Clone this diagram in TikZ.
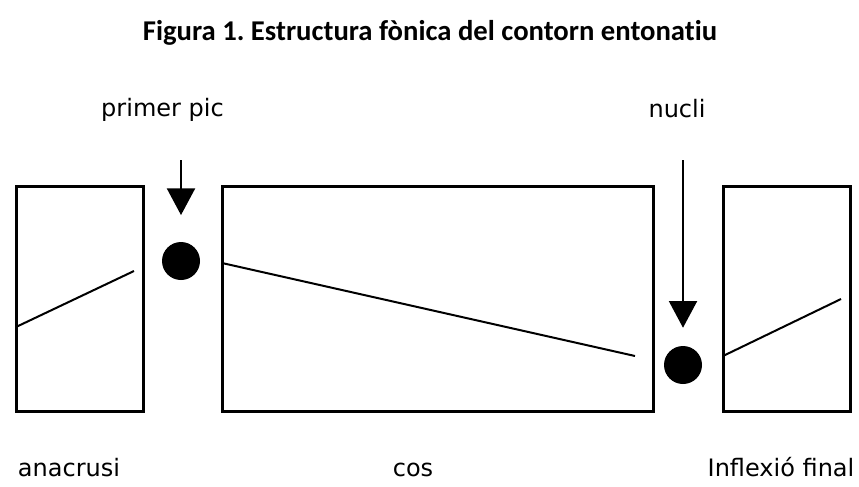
\documentclass[tikz,border=0pt]{standalone}
\usepackage{fontspec}
\setmainfont{DejaVu Sans}
\newfontfamily\titlefont[RawFeature=-liga]{Carlito}
\usepackage{tikz}
\usetikzlibrary{arrows.meta}
\frenchspacing

\tikzset{
	box/.style = {draw, line width = 2.25pt, inner sep = 0pt},
	dot/.style = {circle, fill = black, inner sep = 0pt, minimum size = 28.5pt},
	lbl/.style = {anchor = base, inner sep = 0pt, font = \fontsize{18}{20}\selectfont},
	arr/.style = {line width = 1.5pt, -{Triangle[length = 20pt, width = 21pt]}}
}

\begin{document}
\begin{tikzpicture}[x = 0.75pt, y = -0.75pt]
\useasboundingbox (0, 0) rectangle (859, 486);
\node[anchor = base, inner sep = 0pt, font = \titlefont\bfseries\fontsize{21.5}{24}\selectfont] (title) at (430, 40) {Figura 1. Estructura fònica del contorn entonatiu};

\node[box, minimum width = 95.25pt, minimum height = 168.75pt] (anacrusi) at (79.5, 298.5) {};
\node[box, minimum width = 323.25pt, minimum height = 168.75pt] (cos) at (437.5, 298.5) {};
\node[box, minimum width = 95.25pt, minimum height = 168.75pt] (inflexio) at (786.5, 298.5) {};

\node[dot] (pic) at (181, 261) {};
\node[dot] (nucli) at (683, 365) {};

% contorn
\draw[line width = 1.5pt] (16, 327) -- (134, 271);
\draw[line width = 1.5pt] (222, 263) -- (635, 356);
\draw[line width = 1.5pt] (723, 356) -- (841, 299);

\node[lbl] (lpic) at (162.5, 116) {primer pic};
\node[lbl] (lnucli) at (677, 117) {nucli};
\node[lbl] (lanacrusi) at (69, 476) {anacrusi};
\node[lbl] (lcos) at (413, 476) {cos};
\node[lbl] (linflexio) at (781, 476) {Inflexió final};

\coordinate (a1) at (181, 160);
\coordinate (a2) at (683, 160);
\draw[arr, shorten > = 20pt] (a1) -- (pic.north);
\draw[arr, shorten > = 13.5pt] (a2) -- (nucli.north);
\end{tikzpicture}
\end{document}
